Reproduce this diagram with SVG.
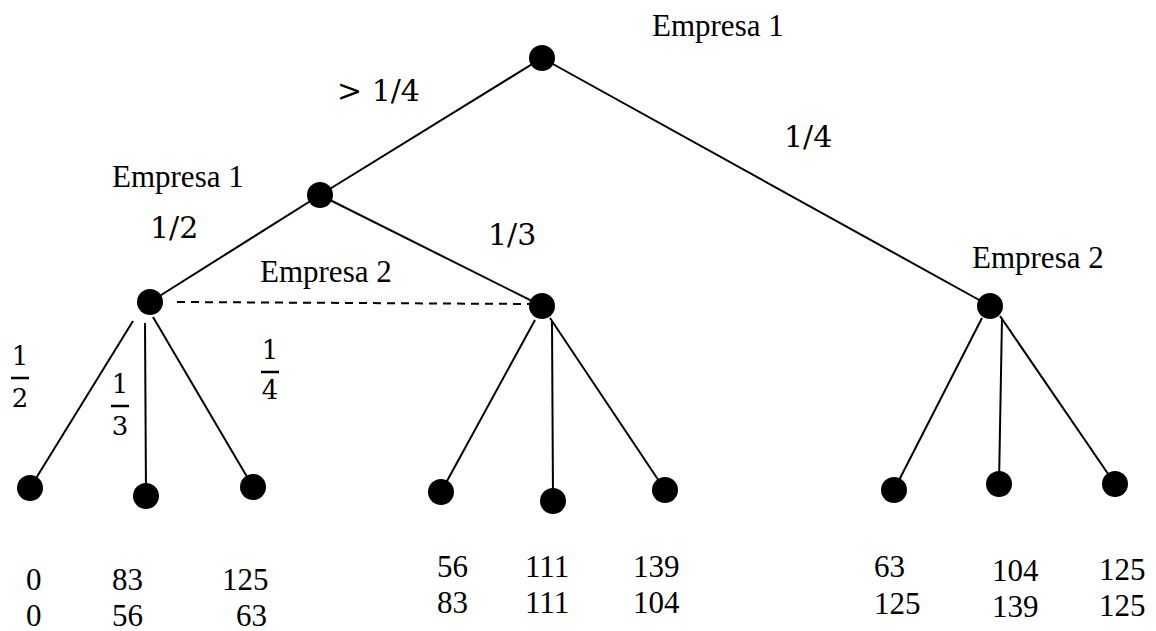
<svg xmlns="http://www.w3.org/2000/svg" width="1156" height="631" viewBox="0 0 1156 631">
  <style>
    .edge { stroke: #000; stroke-width: 2; fill: none; }
    .info { stroke: #000; stroke-width: 2; stroke-dasharray: 8 6; fill: none; }
    .node { fill: #000; }
    .lbl { font-family: "Liberation Serif", "Times New Roman", serif; font-size: 31px; fill: #000; }
    .pay { font-family: "Liberation Serif", "Times New Roman", serif; font-size: 31px; fill: #000; }
    .prob { font-family: "DejaVu Serif", "Liberation Serif", serif; font-size: 30px; fill: #000; }
    .frac { font-family: "DejaVu Serif", "Liberation Serif", serif; font-size: 26px; fill: #000; text-anchor: middle; }
    .bar { stroke: #000; stroke-width: 2.5; }
  </style>

  <!-- branches of the game tree -->
  <g id="connectors">
    <line class="edge" x1="542" y1="58" x2="320" y2="195"/>
    <line class="edge" x1="542" y1="58" x2="990" y2="306"/>
    <line class="edge" x1="320" y1="195" x2="150" y2="302"/>
    <line class="edge" x1="320" y1="195" x2="542" y2="306"/>
    <line class="info" x1="177" y1="302" x2="530" y2="304"/>
    <line class="edge" x1="133" y1="321" x2="30" y2="488"/>
    <line class="edge" x1="145" y1="323" x2="146" y2="496"/>
    <line class="edge" x1="153" y1="317" x2="253" y2="487"/>
    <line class="edge" x1="535" y1="320" x2="441" y2="492"/>
    <line class="edge" x1="552" y1="321" x2="553" y2="500"/>
    <line class="edge" x1="550" y1="318" x2="665" y2="490"/>
    <line class="edge" x1="982" y1="318" x2="894" y2="490"/>
    <line class="edge" x1="1002" y1="318" x2="999" y2="484"/>
    <line class="edge" x1="1000" y1="316" x2="1115" y2="484"/>
  </g>

  <!-- decision nodes -->
  <g id="root"><circle class="node" cx="542" cy="58" r="13"/><text class="lbl" x="652" y="36">Empresa 1</text></g>
  <g id="firm1-second"><circle class="node" cx="320" cy="195" r="13"/><text class="lbl" x="112" y="187">Empresa 1</text></g>
  <g id="firm2-left"><circle class="node" cx="150" cy="302" r="13"/><text class="lbl" x="260" y="282">Empresa 2</text></g>
  <g id="firm2-mid"><circle class="node" cx="542" cy="306" r="13"/></g>
  <g id="firm2-right"><circle class="node" cx="990" cy="306" r="13"/><text class="lbl" x="972" y="268">Empresa 2</text></g>

  <!-- probability labels -->
  <g id="probabilities">
    <text class="prob" x="337" y="101">&gt; 1/4</text>
    <text class="prob" x="784" y="147">1/4</text>
    <text class="prob" x="150" y="238">1/2</text>
    <text class="prob" x="488" y="245">1/3</text>
    <text class="frac" x="20" y="365">1</text>
    <line class="bar" x1="11" y1="378" x2="29" y2="378"/>
    <text class="frac" x="20" y="407">2</text>
    <text class="frac" x="120" y="393">1</text>
    <line class="bar" x1="111" y1="406" x2="129" y2="406"/>
    <text class="frac" x="120" y="435">3</text>
    <text class="frac" x="270" y="359">1</text>
    <line class="bar" x1="261" y1="372" x2="279" y2="372"/>
    <text class="frac" x="270" y="399">4</text>
  </g>

  <!-- terminal nodes with payoffs -->
  <g id="leaf-1"><circle class="node" cx="30" cy="488" r="13"/><text class="pay" x="26" y="590">0</text><text class="pay" x="26" y="626">0</text></g>
  <g id="leaf-2"><circle class="node" cx="146" cy="496" r="13"/><text class="pay" x="112" y="590">83</text><text class="pay" x="112" y="626">56</text></g>
  <g id="leaf-3"><circle class="node" cx="253" cy="487" r="13"/><text class="pay" x="222" y="590">125</text><text class="pay" x="236" y="626">63</text></g>
  <g id="leaf-4"><circle class="node" cx="441" cy="492" r="13"/><text class="pay" x="437" y="577">56</text><text class="pay" x="437" y="613">83</text></g>
  <g id="leaf-5"><circle class="node" cx="553" cy="501" r="13"/><text class="pay" x="525" y="577">111</text><text class="pay" x="525" y="613">111</text></g>
  <g id="leaf-6"><circle class="node" cx="665" cy="490" r="13"/><text class="pay" x="633" y="577">139</text><text class="pay" x="633" y="613">104</text></g>
  <g id="leaf-7"><circle class="node" cx="894" cy="490" r="13"/><text class="pay" x="874" y="577">63</text><text class="pay" x="874" y="614">125</text></g>
  <g id="leaf-8"><circle class="node" cx="999" cy="484" r="13"/><text class="pay" x="992" y="581">104</text><text class="pay" x="992" y="617">139</text></g>
  <g id="leaf-9"><circle class="node" cx="1115" cy="484" r="13"/><text class="pay" x="1099" y="580">125</text><text class="pay" x="1099" y="616">125</text></g>
</svg>
